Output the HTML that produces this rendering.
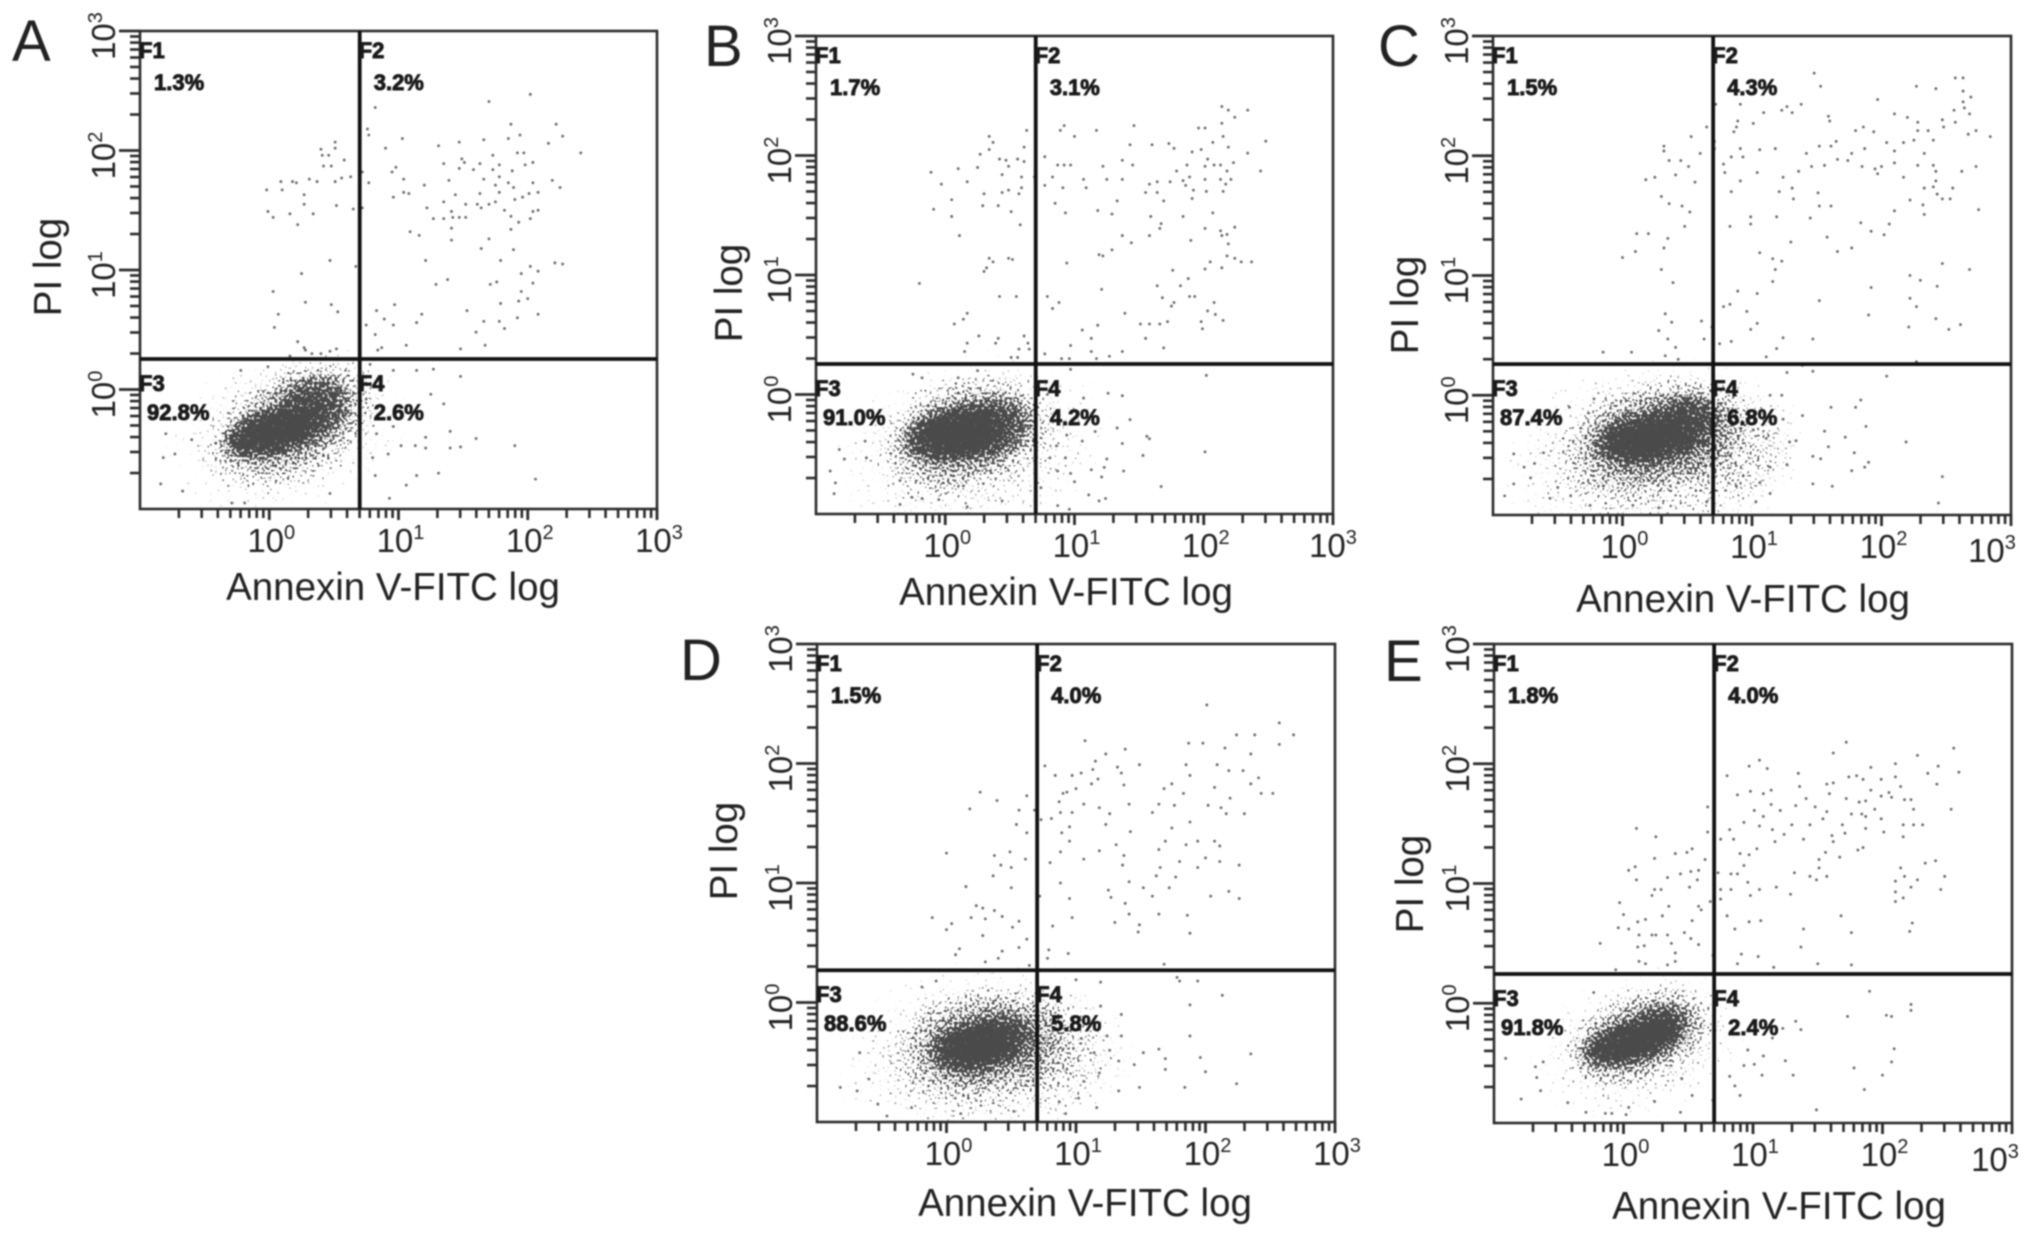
<!DOCTYPE html>
<html lang="en">
<head>
<meta charset="utf-8">
<title>Annexin V-FITC / PI flow cytometry panels</title>
<style>
html,body{margin:0;padding:0;background:#fff;}
#figure{display:block;width:2031px;height:1240px;filter:blur(0.7px);}
text{font-family:"Liberation Sans",sans-serif;fill:#222;}
.pct{font-weight:bold;font-size:22px;fill:#1a1a1a;stroke:#1a1a1a;stroke-width:.9px;}
</style>
</head>
<body>
<svg id="figure" xmlns="http://www.w3.org/2000/svg" width="2031" height="1240" viewBox="0 0 2031 1240">
<defs>
<radialGradient id="cloud-falloff">
<stop offset="0" stop-color="#000" stop-opacity="1"/>
<stop offset="0.55" stop-color="#000" stop-opacity="0.75"/>
<stop offset="1" stop-color="#000" stop-opacity="0"/>
</radialGradient>
<filter id="stipple" x="-30%" y="-30%" width="160%" height="160%" color-interpolation-filters="sRGB">
<feGaussianBlur in="SourceAlpha" stdDeviation="4" result="density"/>
<feTurbulence type="fractalNoise" baseFrequency="0.4" numOctaves="1" seed="7" result="grain"/>
<feColorMatrix in="grain" type="matrix" values="0 0 0 0 0  0 0 0 0 0  0 0 0 0 0  2 0 0 0 -0.5" result="noise"/>
<feComposite in="density" in2="noise" operator="arithmetic" k1="0" k2="1.2" k3="1" k4="-1" result="mix"/>
<feComponentTransfer in="mix" result="mask"><feFuncA type="linear" slope="6"/></feComponentTransfer>
<feFlood flood-color="#4a4a4a" result="ink"/>
<feComposite in="ink" in2="mask" operator="in" result="dots"/>
<feGaussianBlur in="dots" stdDeviation="0.35"/>
</filter>
</defs>
</svg>
<script>
// Each event: [log10 Annexin V-FITC, log10 PI]
const eventsA=[[2.02,2.47],[1.70,2.41],[.82,2.36],[1.87,2.22],[2.22,2.22],[.76,2.18],[.77,2.13],[2.27,2.12],[1.85,2.10],[1.94,2.13],[1.03,2.10],[1.66,2.09],[1.47,2.07],[2.16,2.06],[1.31,2.04],[.90,2.02],[2.41,1.98],[1.92,1.98],[1.97,1.98],[1.73,1.96],[1.35,1.89],[1.49,1.93],[1.51,1.90],[2.04,1.90],[1.98,1.88],[1.78,1.88],[1.63,1.89],[1.47,1.85],[1.58,1.84],[1.73,1.84],[.98,1.86],[.95,1.82],[.72,1.82],[1.88,1.83],[1.78,1.78],[1.66,1.76],[1.85,1.73],[1.75,1.71],[2.04,1.73],[2.19,1.75],[1.04,1.76],[1.20,1.71],[1.39,1.75],[.77,1.73],[2.25,1.69],[1.89,1.69],[1.78,1.65],[2.08,1.65],[2.01,1.64],[1.63,1.64],[1.04,1.65],[1.08,1.64],[.96,1.61],[1.44,1.63],[1.96,1.61],[1.90,1.59],[1.75,1.57],[1.35,1.57],[1.61,1.55],[1.70,1.55],[1.52,1.55],[1.22,1.52],[1.64,1.52],[.72,1.52],[1.41,1.49],[1.82,1.50],[2.04,1.49],[2.08,1.50],[1.27,1.43],[1.35,1.43],[1.42,1.44],[1.52,1.44],[1.47,1.44],[1.87,1.45],[1.93,1.40],[2.02,1.43],[1.41,1.35],[1.09,1.32],[1.16,1.29],[1.87,1.34],[1.41,1.25],[1.70,1.26],[1.64,1.18],[1.89,1.17],[1.21,1.08],[1.79,1.08],[2.21,1.06],[2.27,1.05],[2.02,1.03],[2.08,.99],[1.95,.97],[1.76,.90],[2.04,.89],[1.71,.88],[1.38,.92],[1.29,.88],[1.95,.82],[2.00,.76],[1.93,.74],[1.79,.72],[.97,.71],[.83,.66],[1.53,.66],[2.08,.63],[1.18,.63],[.89,.59],[1.92,.60],[1.66,.57],[1.78,.57],[1.14,.56],[.96,.54],[.75,.54],[1.60,.48],[1.82,.51],[.82,.46],[1.67,.37],[1.06,.37],[.87,.35],[.84,.33],[1.48,.34],
[.51,2.07],[.51,2.02],[.40,2.01],[.41,1.96],[.46,1.96],[.58,1.92],[.42,1.87],[.48,1.87],[.56,1.77],[.51,1.74],[.63,1.78],[.31,1.76],[.37,1.74],[.18,1.74],[.21,1.73],[.09,1.74],[.10,1.67],[-.02,1.67],[.27,1.63],[.27,1.55],[.52,1.54],[.65,1.51],[-.01,1.49],[.03,1.44],[.16,1.47],[.34,1.47],[.22,1.38],[.47,1.08],[.25,.97],[.67,1.03],[.03,.82],[.28,.73],[.48,.71],[.53,.65],[.07,.63],[.04,.52],[.22,.40],[.27,.35],[.28,.33],[.52,.34],[.47,.32],[.40,.30],[.33,.30],[.16,.28],
[1.14,.16],[1.27,.17],[1.48,.11],[1.25,-.04],[1.35,-.12],[1.40,-.35],[1.60,-.41],[1.90,-.47],[1.48,-.48],[1.40,-.49],[1.31,-.70],[2.06,-.75],[1.21,-.40],[1.21,-.49],[1.13,-.47],[1.14,-.72],[1.06,-.80],[.93,-.91],[.82,-.72],[1.02,-.47],[.92,-.54],[.83,-.37],[.96,-.31],[.80,-.57],[.75,-.08],[.96,.16],[.78,.21],
[-.84,-.79],[-.80,-.37],[-.82,-.57],[-.67,-.85],[-.29,-.95],[-.19,-.95],[.47,-.87],[-.22,.16],[-.01,.19],[-.73,-.54],[-.60,-.42]];
const eventsB=[[2.14,2.41],[2.19,2.38],[2.34,2.38],[2.24,2.32],[2.14,2.27],[.92,2.25],[1.46,2.25],[.89,2.21],[1.17,2.21],[1.96,2.23],[2.01,2.23],[.63,2.21],[.34,2.16],[1.00,2.16],[2.15,2.16],[.37,2.11],[2.48,2.12],[2.07,2.11],[1.43,2.09],[1.60,2.09],[1.73,2.10],[1.77,2.06],[2.19,2.07],[.61,2.07],[.34,2.05],[1.98,2.05],[1.91,2.03],[2.34,2.02],[.27,2.01],[.42,1.97],[.47,1.96],[.56,1.97],[.77,1.99],[.61,1.95],[1.37,1.96],[2.03,1.97],[2.23,1.94],[.87,1.92],[.92,1.92],[.97,1.92],[1.22,1.91],[1.45,1.92],[1.87,1.92],[2.01,1.91],[2.08,1.92],[2.13,1.92],[.49,1.91],[.25,1.90],[.10,1.89],[-.11,1.86],[1.79,1.87],[2.44,1.87],[2.18,1.87],[1.89,1.82],[.44,1.84],[.59,1.82],[.69,1.82],[.83,1.82],[1.07,1.80],[1.25,1.80],[1.37,1.80],[1.84,1.79],[1.74,1.78],[2.01,1.80],[2.13,1.80],[2.21,1.80],[.17,1.78],[-.03,1.76],[.77,1.75],[.91,1.73],[1.09,1.73],[1.58,1.76],[1.64,1.78],[1.86,1.75],[2.17,1.76],[1.92,1.71],[.49,1.71],[.59,1.73],[.30,1.68],[.44,1.69],[.57,1.68],[1.55,1.69],[1.64,1.69],[2.02,1.70],[2.15,1.70],[1.91,1.64],[.05,1.63],[1.69,1.62],[.85,1.60],[1.33,1.62],[.29,1.58],[.41,1.58],[-.09,1.55],[1.18,1.54],[.51,1.53],[.93,1.52],[1.29,1.51],[.05,1.49],[2.07,1.52],[1.59,1.49],[1.84,1.49],[.58,1.42],[1.67,1.43],[1.66,1.39],[2.01,1.39],[2.24,1.40],[2.13,1.37],[2.18,1.34],[.11,1.33],[1.37,1.33],[1.58,1.33],[2.14,1.33],[1.90,1.29],[1.44,1.27],[2.19,1.26],[1.29,1.21],[1.19,1.17],[1.22,1.16],[.34,1.14],[.49,1.14],[.52,1.13],[2.18,1.16],[2.24,1.14],[.37,1.11],[2.05,1.11],[.94,1.10],[2.29,1.11],[2.37,1.11],[2.14,1.06],[.32,1.06],[.30,1.03],[2.01,1.05],[1.76,1.04],[1.88,.97],[-.20,.93],[1.64,.91],[1.82,.91],[1.21,.88],[.42,.82],[.55,.82],[.79,.82],[1.68,.81],[1.89,.82],[1.93,.82],[.88,.77],[1.77,.77],[2.08,.77],[1.75,.74],[.83,.72],[2.03,.70],[1.39,.68],[.17,.68],[2.09,.67],[.14,.63],[2.15,.62],[1.98,.61],[1.72,.61],[1.66,.59],[1.51,.59],[1.58,.59],[.07,.59],[1.18,.58],[1.06,.54],[1.99,.55],[1.13,.47],[1.55,.47],[.61,.49],[.26,.49],[.41,.47],[.17,.43],[.39,.43],[.64,.43],[.97,.41],[1.69,.39],[.57,.38],[.65,.38],[.15,.36],[1.13,.36],[1.37,.36],[.77,.34],[1.27,.32],[.51,.31],[.56,.31],[.90,.30],[.96,.30],[1.17,.30],
[2.02,.16],[.97,.21],[1.26,.01],[1.37,-.01],[1.43,-.21],[1.33,-.28],[1.56,-.35],[1.58,-.37],[1.37,-.41],[1.53,-.51],[2.01,-.48],[1.38,-.64],[1.67,-.77],[1.25,-.54],[1.23,-.61],[1.21,-.69],[1.13,-.63],[1.0,-.73],[1.24,-.87],[1.19,-.89],[1.11,-.84],[.96,-.96],[.87,-.93],[.74,-.78],[.93,-.53],[.86,-.43],[1.06,-.39],[1.16,-.31],[.94,-.34],[.97,-.66],[.87,-.64],[.81,-.53],[1.07,-.03],[.79,.0],
[-.89,-.64],[-.85,-.74],[-.86,-.83],[-.82,-.46],[-.78,-.54],[-.62,-.39],[-.61,-.53],[-.35,-.72],[-.35,-.92],[-.26,-.86],[-.18,-.87],[-.05,-.88],[.17,-.94],[.44,-.89],[-.25,.17],[-.18,.14],[.10,.14],[.25,.20]];
const eventsC=[[1.48,2.69],[1.53,2.58],[2.57,2.65],[2.63,2.65],[2.27,2.58],[2.42,2.56],[2.63,2.54],[2.69,2.49],[1.97,2.47],[2.63,2.45],[2.64,2.40],[.72,2.43],[.91,2.43],[1.27,2.41],[1.38,2.43],[1.23,2.38],[1.31,2.36],[1.09,2.36],[2.10,2.35],[2.56,2.38],[2.68,2.35],[1.59,2.33],[1.60,2.29],[2.20,2.32],[2.28,2.28],[2.47,2.30],[2.57,2.28],[.89,2.29],[1.01,2.27],[.88,2.24],[.65,2.24],[1.86,2.24],[1.80,2.21],[2.28,2.21],[2.36,2.21],[2.48,2.24],[.86,2.20],[1.94,2.20],[2.67,2.18],[2.73,2.21],[2.84,2.16],[.53,2.16],[2.25,2.13],[2.40,2.13],[1.65,2.12],[.71,2.12],[.32,2.08],[1.52,2.08],[1.61,2.08],[2.04,2.11],[2.17,2.11],[.71,2.06],[.91,2.06],[1.06,2.05],[1.18,2.06],[1.87,2.06],[2.10,2.04],[.32,2.04],[.60,2.02],[1.42,2.02],[1.77,2.02],[2.33,2.02],[.93,1.99],[.84,1.99],[1.66,1.97],[.36,1.96],[.45,1.96],[1.74,1.96],[.78,1.93],[2.10,1.94],[2.28,1.92],[2.40,1.92],[.51,1.91],[1.56,1.92],[1.46,1.91],[1.85,1.91],[1.95,1.89],[2.00,1.91],[2.42,1.87],[2.62,1.87],[2.73,1.91],[1.36,1.87],[.79,1.86],[1.04,1.86],[.41,1.84],[1.97,1.85],[1.24,1.82],[.18,1.80],[.25,1.82],[.56,1.78],[.91,1.79],[2.17,1.82],[2.42,1.79],[2.33,1.73],[2.40,1.74],[2.55,1.73],[.84,1.70],[1.31,1.73],[1.21,1.70],[1.51,1.69],[.30,1.66],[1.32,1.64],[2.43,1.68],[2.47,1.64],[2.53,1.64],[.46,1.58],[.36,1.60],[1.52,1.58],[1.61,1.58],[2.22,1.63],[2.32,1.59],[2.75,1.55],[.52,1.53],[2.10,1.54],[2.33,1.51],[.99,1.49],[1.19,1.49],[1.45,1.48],[1.84,1.44],[.83,1.41],[.99,1.43],[.48,1.41],[2.06,1.43],[1.92,1.37],[.11,1.35],[.20,1.35],[2.02,1.34],[.35,1.31],[1.58,1.32],[1.30,1.28],[.32,1.23],[1.77,1.23],[1.66,1.20],[.10,1.20],[1.06,1.19],[.0,1.15],[1.16,1.14],[1.23,1.12],[2.47,1.10],[.30,1.05],[1.18,1.05],[2.68,1.05],[2.22,1.00],[2.30,.96],[1.16,.95],[.39,.94],[2.43,.91],[1.92,.90],[.89,.87],[1.04,.85],[2.22,.81],[1.52,.79],[.83,.76],[.78,.74],[2.27,.74],[.96,.70],[.33,.68],[1.90,.67],[2.42,.64],[.61,.62],[2.61,.59],[2.21,.57],[.38,.61],[1.04,.60],[.99,.55],[2.52,.55],[.28,.54],[.69,.57],[1.24,.48],[1.47,.47],[.35,.47],[.63,.47],[.84,.45],[.75,.43],[1.19,.39],[.41,.40],[-.15,.36],[.07,.36],[1.11,.32],[.33,.33],[.70,.37],[.43,.30],[2.27,.28],
[1.39,.25],[1.27,.19],[1.47,.20],[2.04,.16],[1.23,.0],[1.84,-.04],[1.61,-.10],[1.80,-.10],[1.39,-.17],[1.88,-.26],[1.56,-.30],[1.72,-.35],[2.19,-.39],[1.34,-.38],[1.59,-.43],[1.79,-.48],[1.27,-.58],[1.47,-.51],[1.53,-.53],[1.90,-.56],[1.77,-.63],[1.87,-.60],[2.47,-.68],[1.62,-.76],[1.47,-.74],[2.44,-.90],[1.14,-.82],[1.03,-.89],[.88,-.76],[1.06,-.73],[1.14,-.60],[1.29,-.39],[1.11,-.36],[1.01,-.29],[1.24,-.20],[1.14,.0],
[-.91,-.84],[-.84,-.74],[-.76,-.60],[-.71,-.69],[-.84,-.49],[-.68,-.57],[-.61,-.48],[-.56,-.86],[-.40,-.84],[-.25,-.92],[-.50,-.77],[-.41,-.10],[-.22,-.03],[.08,-.92],[.28,-.94],[.65,-.89]];
const eventsD=[[2.01,2.49],[2.57,2.34],[2.68,2.24],[2.24,2.24],[2.38,2.24],[1.07,2.19],[1.87,2.17],[1.98,2.17],[2.57,2.16],[2.15,2.13],[1.38,2.12],[1.23,2.08],[2.35,2.08],[1.15,2.02],[1.49,1.99],[1.85,1.99],[2.09,1.99],[.76,1.98],[1.32,1.97],[1.13,1.95],[1.35,1.92],[.84,1.90],[.97,1.90],[1.04,1.92],[1.88,1.90],[2.18,1.94],[2.29,1.94],[2.41,1.88],[1.17,1.87],[1.12,1.83],[2.35,1.83],[1.37,1.82],[1.74,1.83],[2.07,1.80],[.90,1.75],[1.00,1.79],[.93,1.76],[1.68,1.79],[1.83,1.75],[2.52,1.75],[2.43,1.75],[.26,1.76],[.62,1.73],[.39,1.69],[.87,1.68],[1.06,1.66],[1.41,1.66],[1.64,1.66],[2.02,1.65],[2.19,1.71],[2.12,1.63],[1.76,1.65],[.18,1.62],[.56,1.61],[.68,1.61],[.88,1.59],[.97,1.59],[1.18,1.63],[1.26,1.58],[1.59,1.59],[2.30,1.58],[2.16,1.58],[.73,1.53],[.81,1.54],[.54,1.49],[1.23,1.49],[.95,1.47],[1.88,1.51],[1.74,1.46],[.62,1.42],[.89,1.42],[1.42,1.43],[.95,1.35],[1.69,1.35],[2.07,1.35],[1.85,1.32],[1.94,1.35],[2.11,1.31],[1.31,1.32],[1.64,1.28],[1.18,1.27],[.0,1.25],[.49,1.26],[.37,1.23],[.88,1.26],[1.37,1.23],[1.06,1.20],[.61,1.20],[1.80,1.18],[2.00,1.21],[2.11,1.18],[.80,1.17],[.42,1.15],[.50,1.13],[1.36,1.15],[1.65,1.13],[1.94,1.13],[2.26,1.15],[1.62,1.06],[.36,1.06],[1.77,1.05],[1.41,1.01],[.88,1.00],[.15,.97],[.50,.96],[1.52,.96],[1.72,.96],[1.25,.94],[2.04,.89],[2.18,.93],[.72,.89],[1.27,.88],[1.59,.89],[.95,.87],[2.26,.87],[1.38,.83],[.23,.81],[.28,.79],[.37,.77],[1.41,.74],[1.64,.74],[1.86,.73],[.97,.71],[-.11,.71],[.19,.71],[.43,.72],[.56,.68],[.30,.70],[1.30,.67],[.82,.64],[1.49,.65],[.51,.63],[.04,.66],[.0,.61],[1.48,.59],[1.88,.58],[.28,.56],[.62,.53],[.10,.45],[.43,.43],[.79,.44],[.56,.46],[.94,.41],[.07,.40],[.40,.37],[.30,.34],[.78,.37],[1.68,.32],[.64,.31],
[1.78,.21],[1.80,.18],[1.94,.18],[2.13,.06],[1.88,-.02],[1.88,-.28],[2.35,-.43],[1.96,-.46],[2.0,-.58],[2.24,-.68],[1.84,-.71],[1.69,-.47],[1.69,-.56],[1.64,-.39],[1.52,-.42],[1.49,-.71],[1.33,-.74],[1.45,-.52],[1.33,-.49],[1.26,-.40],[1.35,-.10],[1.19,-.03],[1.19,.17],[1.0,.19],[1.16,-.88],[.92,-.93],[.87,-.83],[1.02,-.80],[1.18,-.59],[1.06,-.66],[1.14,-.42],[1.04,-.30],[.90,-.39],[.93,-.56],[1.24,-.28],[1.35,-.28],
[-.82,-.71],[-.69,-.74],[-.67,-.42],[-.53,-.85],[-.46,-.95],[-.60,-.64],[-.08,.18],[-.19,.13],[-.27,-.88],[.11,-.93],[.52,-.91]];
const eventsE=[[1.72,2.18],[2.55,2.13],[1.62,2.09],[2.27,2.07],[1.05,2.03],[.97,1.98],[2.10,2.00],[1.11,1.96],[1.91,1.97],[2.43,1.98],[1.35,1.92],[2.35,1.92],[2.59,1.93],[.80,1.90],[1.74,1.89],[1.80,1.90],[1.85,1.87],[1.99,1.87],[2.10,1.89],[1.62,1.84],[1.57,1.83],[2.42,1.83],[2.14,1.81],[1.36,1.81],[1.14,1.78],[.98,1.77],[1.08,1.75],[1.59,1.75],[1.91,1.78],[2.05,1.76],[.88,1.74],[2.07,1.72],[1.99,1.73],[1.41,1.71],[1.72,1.71],[2.22,1.70],[2.17,1.70],[1.82,1.68],[1.87,1.69],[1.14,1.66],[1.33,1.65],[1.48,1.64],[.65,1.64],[1.01,1.61],[2.24,1.62],[2.53,1.62],[1.76,1.58],[1.84,1.58],[1.94,1.62],[1.57,1.60],[1.21,1.61],[1.08,1.56],[1.54,1.54],[1.87,1.56],[1.99,1.54],[.93,1.51],[1.30,1.49],[1.44,1.49],[1.69,1.49],[2.16,1.49],[2.24,1.49],[2.31,1.49],[1.05,1.48],[1.15,1.45],[.82,1.45],[.10,1.46],[1.71,1.42],[1.87,1.46],[2.01,1.43],[.65,1.43],[.25,1.39],[1.24,1.41],[1.61,1.40],[.75,1.37],[.85,1.37],[1.39,1.37],[2.16,1.39],[1.62,1.35],[1.17,1.35],[1.85,1.30],[1.81,1.28],[1.56,1.26],[.53,1.29],[.49,1.26],[.40,1.25],[.90,1.25],[.97,1.24],[1.03,1.29],[1.67,1.22],[.24,1.21],[.63,1.20],[1.51,1.20],[2.41,1.19],[2.33,1.17],[.93,1.15],[2.14,1.13],[.04,1.11],[.09,1.14],[1.51,1.13],[.58,1.11],[.52,1.10],[.73,1.09],[.83,1.08],[.88,1.08],[1.32,1.09],[.44,1.08],[1.44,1.06],[1.57,1.06],[2.17,1.06],[2.48,1.06],[.10,1.03],[.34,1.05],[.57,1.03],[2.10,1.02],[1.49,1.03],[2.27,1.03],[.96,1.01],[1.18,.97],[.51,.97],[2.22,.97],[2.45,.95],[.24,.95],[.29,.95],[.83,.95],[.75,.95],[1.05,.95],[2.10,.93],[.22,.90],[1.29,.91],[.98,.90],[2.16,.88],[.75,.87],[2.10,.85],[.67,.85],[-.03,.84],[.35,.81],[.58,.81],[.60,.78],[.0,.74],[.30,.73],[.80,.73],[1.68,.73],[.17,.70],[.53,.69],[.11,.68],[.97,.68],[1.06,.69],[2.23,.67],[-.04,.63],[.04,.62],[.86,.62],[1.39,.62],[2.21,.60],[1.76,.59],[.12,.57],[.22,.57],[.25,.57],[.34,.57],[.47,.59],[.52,.54],[.37,.50],[-.18,.50],[.11,.47],[.16,.48],[.58,.49],[1.37,.47],[.40,.42],[.91,.41],[1.04,.39],[.69,.40],[.12,.35],[.17,.33],[.88,.33],[1.50,.33],[1.76,.32],[.34,.32],[1.16,.30],[-.06,.28],[.40,.35],
[1.90,.10],[2.22,-.01],[2.22,-.06],[2.03,-.10],[2.07,-.11],[1.73,-.11],[1.33,-.15],[1.37,-.22],[1.23,-.21],[2.09,-.38],[2.07,-.49],[1.78,-.54],[2.0,-.60],[1.31,-.60],[1.25,-.48],[1.86,-.72],[1.49,-.89],[1.08,-.44],[1.07,-.60],[.93,-.52],[1.01,-.51],[.86,-.69],[.90,-.77],[1.15,-.29],[.96,-.39],[.82,-.61],[.69,-.81],
[-.91,-.46],[-.79,-.80],[-.68,-.53],[-.67,-.62],[-.64,-.73],[-.62,-.49],[-.43,-.83],[-.29,-.91],[-.14,-.92],[-.09,-.92],[.02,-.93],[.04,-.87],[.44,-.91],[.24,-.82],[-.23,.09],[.45,-.63],[.53,-.77]];

// Dense event populations: [centre log Annexin, centre log PI, spread X, spread Y, tilt, density]
const cloudsA=[[.13,-.34,1.05,.72,-15,.2],[.20,-.28,.80,.50,-30,.42],[.33,-.16,.34,.30,-35,.62],[.02,-.36,.45,.22,-15,1]];
const cloudsB=[[.20,-.43,1.15,.80,-10,.22],[.17,-.33,.75,.52,-18,.4],[.34,-.28,.38,.28,-15,.62],[.07,-.33,.45,.26,-10,1]];
const cloudsC=[[.22,-.49,1.25,.85,-5,.26],[.88,-.43,.55,.60,0,.16],[.25,-.36,.78,.52,-15,.42],[.48,-.23,.33,.28,-20,.6],[.18,-.36,.45,.24,-8,1]];
const cloudsD=[[.25,-.45,1.2,.82,-5,.24],[.93,-.42,.55,.55,0,.14],[.28,-.35,.75,.52,-10,.42],[.42,-.30,.28,.24,-10,.65],[.21,-.37,.38,.24,-10,1]];
const cloudsE=[[.11,-.34,.95,.66,-12,.2],[.14,-.28,.68,.42,-22,.42],[.27,-.21,.28,.22,-25,.7],[.04,-.33,.44,.20,-15,1]];

// Quadrant percentages F1..F4
const percentA=["1.3%","3.2%","92.8%","2.6%"];
const percentB=["1.7%","3.1%","91.0%","4.2%"];
const percentC=["1.5%","4.3%","87.4%","6.8%"];
const percentD=["1.5%","4.0%","88.6%","5.8%"];
const percentE=["1.8%","4.0%","91.8%","2.4%"];
const quadrantNames=["F1","F2","F3","F4"];

// Quadrant gates on each panel: [log Annexin, log PI]
const gateA=[.70,.255];
const gateB=[.70,.255];
const gateC=[.70,.26];
const gateD=[.70,.27];
const gateE=[.70,.244];

// Axes
const axisMin=-1;
const axisMax=3;
const tickExponents=[0,1,2,3];
const minorDecades=[-1,0,1,2];
const minorMultipliers=[2,3,4,5,6,7,8,9];
const xAxisTitle="Annexin V-FITC log";
const yAxisTitle="PI log";

const layouts=[
 {id:"a",letter:"A",events:eventsA,clouds:cloudsA,percent:percentA,gate:gateA,x0:140,x1:657,y0:31,y1:509,lx:12,ly:61,tx:393,ty:600,px:61,py:267,lastDx:2,lastDy:0},
 {id:"b",letter:"B",events:eventsB,clouds:cloudsB,percent:percentB,gate:gateB,x0:816,x1:1333,y0:36,y1:514,lx:704,ly:66,tx:1066,ty:605,px:742,py:293,lastDx:0,lastDy:0},
 {id:"c",letter:"C",events:eventsC,clouds:cloudsC,percent:percentC,gate:gateC,x0:1493,x1:2011,y0:36,y1:515,lx:1378,ly:66,tx:1743,ty:612,px:1418,py:305,lastDx:-19,lastDy:4},
 {id:"d",letter:"D",events:eventsD,clouds:cloudsD,percent:percentD,gate:gateD,x0:817,x1:1335,y0:644,y1:1122,lx:680,ly:680,tx:1085,ty:1216,px:737,py:851,lastDx:2,lastDy:0},
 {id:"e",letter:"E",events:eventsE,clouds:cloudsE,percent:percentE,gate:gateE,x0:1494,x1:2012,y0:644,y1:1123,lx:1384,ly:681,tx:1779,ty:1219,px:1423,py:884,lastDx:-17,lastDy:5}
];

const SVG_NS="http://www.w3.org/2000/svg";
const root=document.getElementById("figure");
const defs=root.querySelector("defs");

function make(tag,attrs,parent){
  const el=document.createElementNS(SVG_NS,tag);
  for(const k in attrs){el.setAttribute(k,attrs[k]);}
  parent.appendChild(el);
  return el;
}

function tickLine(g,x1,y1,x2,y2,w,name){
  const t=make("line",{x1:x1,y1:y1,x2:x2,y2:y2,stroke:"#2c2c2c","stroke-width":w},g);
  
  
}

function powerLabel(g,x,y,exp,rotate,name){
  const attrs={x:x,y:y,"font-size":33,"text-anchor":"middle",fill:"#2a2a2a"};
  if(rotate){attrs.transform="rotate(-90 "+x+" "+y+")";}
  const t=make("text",attrs,g);
  
  
  t.appendChild(document.createTextNode("10"));
  const s=make("tspan",{"font-size":20,dy:-13},t);
  s.textContent=String(exp);
}

layouts.forEach(function(p){
  const xScale=function(v){return p.x0+(v-axisMin)/(axisMax-axisMin)*(p.x1-p.x0);};
  const yScale=function(v){return p.y1-(v-axisMin)/(axisMax-axisMin)*(p.y1-p.y0);};
  const pxPerX=(p.x1-p.x0)/(axisMax-axisMin);
  const pxPerY=(p.y1-p.y0)/(axisMax-axisMin);

  const g=make("g",{},root);
  
  

  const letter=make("text",{x:p.lx,y:p.ly,"font-size":58,fill:"#1a1a1a"},g);
  
  
  letter.textContent=p.letter;

  const clip=make("clipPath",{id:"clip-"+p.id},defs);
  make("rect",{x:p.x0,y:p.y0,width:p.x1-p.x0,height:p.y1-p.y0},clip);

  const plot=make("g",{"clip-path":"url(#clip-"+p.id+")"},g);
  
  

  const cloudGroup=make("g",{filter:"url(#stipple)"},plot);
  
  
  p.clouds.forEach(function(c){
    const cx=xScale(c[0]),cy=yScale(c[1]);
    const e=make("ellipse",{cx:cx,cy:cy,rx:c[2]*pxPerX,ry:c[3]*pxPerY,fill:"url(#cloud-falloff)","fill-opacity":c[5],transform:"rotate("+c[4]+" "+cx+" "+cy+")"},cloudGroup);
    
    
  });

  const pointGroup=make("g",{fill:"#666"},plot);
  
  
  p.events.forEach(function(ev){
    const d=make("circle",{cx:xScale(ev[0]),cy:yScale(ev[1]),r:1.4},pointGroup);
    
    
  });

  // ticks
  const ticks=make("g",{},g);
  
  
  tickExponents.forEach(function(e){
    tickLine(ticks,xScale(e),p.y1,xScale(e),p.y1+11,2.8,'x-major-tick');
    tickLine(ticks,p.x0-21,yScale(e),p.x0,yScale(e),2.8,'y-major-tick');
  });
  minorDecades.forEach(function(dec){
    minorMultipliers.forEach(function(m){
      const v=dec+Math.log10(m);
      tickLine(ticks,xScale(v),p.y1,xScale(v),p.y1+9,2.6,'x-minor-tick');
      tickLine(ticks,p.x0-10,yScale(v),p.x0,yScale(v),2.6,'y-minor-tick');
    });
  });

  const frame=make("rect",{x:p.x0,y:p.y0,width:p.x1-p.x0,height:p.y1-p.y0,fill:"none",stroke:"#2c2c2c","stroke-width":2.6},g);
  
  

  const gx=xScale(p.gate[0]),gy=yScale(p.gate[1]);
  const vLine=make("line",{x1:gx,y1:p.y0,x2:gx,y2:p.y1,stroke:"#111","stroke-width":3.8},g);
  
  
  const hLine=make("line",{x1:p.x0,y1:gy,x2:p.x1,y2:gy,stroke:"#111","stroke-width":3.8},g);
  
  

  // quadrant labels
  const nameSpots=[[p.x0-1,p.y0+27],[gx-1,p.y0+27],[p.x0-1,gy+32],[gx-1,gy+32]];
  const pctSpots=[[p.x0+14,p.y0+59],[gx+14,p.y0+59],[p.x0+7,gy+61],[gx+14,gy+61]];
  quadrantNames.forEach(function(n,i){
    const a=make("text",{x:nameSpots[i][0],y:nameSpots[i][1],"class":"pct"},g);
    
    
    a.textContent=n;
    const b=make("text",{x:pctSpots[i][0],y:pctSpots[i][1],"class":"pct"},g);
    
    
    b.textContent=p.percent[i];
  });

  // tick labels
  tickExponents.forEach(function(e,i){
    const last=i===tickExponents.length-1;
    const dx=last?p.lastDx:2;
    const dy=last?p.lastDy:0;
    powerLabel(g,xScale(e)+dx,p.y1+43+dy,e,false,'x-tick-label');
    powerLabel(g,p.x0-25,yScale(e)+5,e,true,'y-tick-label');
  });

  const xt=make("text",{x:p.tx,y:p.ty,"font-size":38.5,"text-anchor":"middle",fill:"#2a2a2a"},g);
  
  
  xt.textContent=xAxisTitle;

  const yt=make("text",{x:p.px,y:p.py,"font-size":38.5,"text-anchor":"middle",fill:"#2a2a2a",transform:"rotate(-90 "+p.px+" "+p.py+")"},g);
  
  
  yt.textContent=yAxisTitle;
});
</script>
</body>
</html>
